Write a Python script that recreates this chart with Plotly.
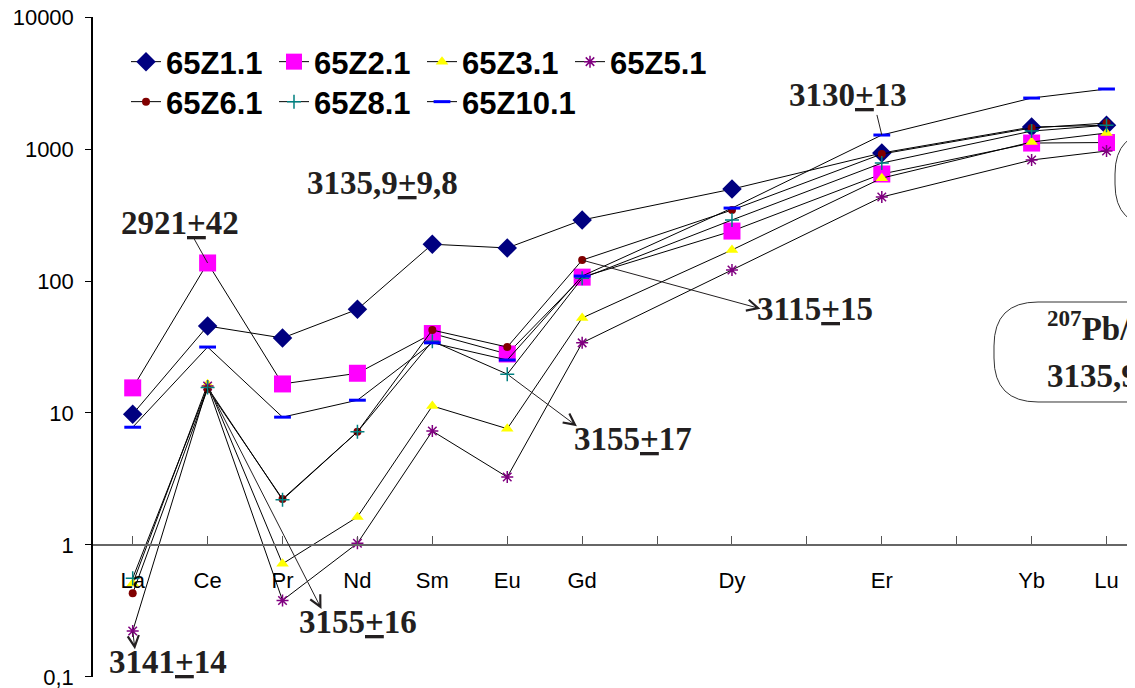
import math
import plotly.graph_objects as go

# ---------------- data ----------------
ree = ["La", "Ce", "Pr", "Nd", "Sm", "Eu", "Gd", "Tb", "Dy", "Ho", "Er", "Tm", "Yb", "Lu"]
ree_labels = ["La", "Ce", "Pr", "Nd", "Sm", "Eu", "Gd", "", "Dy", "", "Er", "", "Yb", "Lu"]

N = None
z1_1 = [9.8, 45.6, 37, 61, 190, 178, 290, N, 497, N, 933, N, 1468, 1514]
z2_1 = [15.5, 137, 16.6, 20, 40, 28, 107, N, 239, N, 647, N, 1110, 1120]
z3_1 = [0.51, 16.5, 0.72, 1.63, 11.3, 7.6, 52.5, N, 172, N, 602, N, 1130, 1322]
z5_1 = [0.223, 16.0, 0.38, 1.03, 7.3, 3.27, 34, N, 121, N, 433, N, 826, 966]
z6_1 = [0.43, 15.2, 2.23, 7.2, 42.5, 31.6, 144, N, 345, N, 917, N, 1443, 1574]
z8_1 = [0.56, 15.6, 2.2, 7.2, 35, 19.7, 105, N, 290, N, 783, N, 1368, 1514]
z10_1 = [7.8, 31.6, 9.3, 12.5, 34, 25.2, 109, N, 357, N, 1277, N, 2434, 2850]

y_tickvals = [0.1, 1, 10, 100, 1000, 10000]
y_ticktext = ["0,1", "1", "10", "100", "1000", "10000"]

x_pos = list(range(len(ree)))

# ---------------- figure ----------------
series = [
    ("65Z1.1", z1_1, dict(symbol="diamond", size=15, color="#000080",
                          line=dict(width=0)), "legend"),
    ("65Z2.1", z2_1, dict(symbol="square", size=17, color="#FF00FF",
                          line=dict(width=0)), "legend"),
    ("65Z3.1", z3_1, dict(symbol="triangle-up", size=11, color="#FFFF00",
                          line=dict(width=0)), "legend"),
    ("65Z5.1", z5_1, dict(symbol="asterisk-open", size=10, color="#800080",
                          line=dict(width=1.5, color="#800080")), "legend"),
    ("65Z6.1", z6_1, dict(symbol="circle", size=8, color="#800000",
                          line=dict(width=0)), "legend2"),
    ("65Z8.1", z8_1, dict(symbol="cross-thin-open", size=10, color="#008080",
                          line=dict(width=1.5, color="#008080")), "legend2"),
    ("65Z10.1", z10_1, dict(symbol="line-ew-open", size=12, color="#0000FF",
                            line=dict(width=3, color="#0000FF")), "legend2"),
]

fig = go.Figure()
for name, vals, marker, leg in series:
    fig.add_trace(go.Scatter(
        x=x_pos, y=vals, name=name, mode="lines+markers",
        connectgaps=True, line=dict(color="black", width=1),
        marker=marker, legend=leg, cliponaxis=False,
    ))
# invisible spacer entry so the last legend2 label is not clipped
fig.add_trace(go.Scatter(x=[None], y=[None], name=" ", mode="lines",
                         line=dict(color="rgba(0,0,0,0)"), legend="legend2",
                         hoverinfo="skip"))

# page offset of the plot div (default body margin of the html page)
OFF = 8
W, H = 1135 - OFF, 688 - OFF
# plot area in page pixels
PLOT_L, PLOT_R, PLOT_T, PLOT_B = 93, 1135, 17, 677


def pxx(px):
    return (px - PLOT_L) / (PLOT_R - PLOT_L)


def pxy(py):
    return (PLOT_B - py) / (PLOT_B - PLOT_T)


serif = dict(family="Liberation Serif, Times New Roman, serif", size=33,
             color="#231f20", weight="bold")


def label(text, x, y, xanchor="center"):
    fig.add_annotation(text=text, x=x, y=y, xref="x", yref="y",
                       showarrow=False, font=serif, xanchor=xanchor,
                       yanchor="middle")


def pointer(x_head, y_head, x_tail, y_tail, head=0):
    fig.add_annotation(text="", x=x_head, y=y_head, ax=x_tail, ay=y_tail,
                       xref="x", yref="y", axref="x", ayref="y",
                       showarrow=True, arrowhead=head, arrowsize=2.2,
                       arrowwidth=1, arrowcolor="#231f20",
                       standoff=0, startstandoff=0)


lg = math.log10
pm = "<u>+</u>"

# age labels
label("2921" + pm + "42", 0.63, 2.44)
pointer(1, lg(z2_1[1]), 0.81, 2.33)

label("3135,9" + pm + "9,8", 3.33, 2.74)

label("3130" + pm + "13", 9.55, 3.41)
pointer(10, lg(z10_1[10]), 9.93, 3.27)

label("3115" + pm + "15", 9.11, 1.79)
pointer(8.38, 1.79, 6, lg(z6_1[6]), head=5)

label("3155" + pm + "17", 6.68, 0.80)
pointer(5.93, 0.90, 5, lg(z8_1[5]), head=5)

label("3155" + pm + "16", 3.01, -0.58)
pointer(2.52, -0.485, 1, lg(z5_1[1]), head=5)

label("3141" + pm + "14", 0.47, -0.89)
pointer(0.03, -0.79, 0, lg(z5_1[0]), head=5)


# rounded boxes (partially cut off at right edge)
def box_path(left, top, right, bottom, r):
    pts = [
        ("M", pxx(left + r), pxy(top)),
        ("L", pxx(right), pxy(top)),
        ("L", pxx(right), pxy(bottom)),
        ("L", pxx(left + r), pxy(bottom)),
    ]
    s = " ".join(f"{c} {a:.5f},{b:.5f}" for c, a, b in pts)
    s += f" Q {pxx(left):.5f},{pxy(bottom):.5f} {pxx(left):.5f},{pxy(bottom - r):.5f}"
    s += f" L {pxx(left):.5f},{pxy(top + r):.5f}"
    s += f" Q {pxx(left):.5f},{pxy(top):.5f} {pxx(left + r):.5f},{pxy(top):.5f} Z"
    return s


fig.add_shape(type="path", xref="paper", yref="paper",
              path=box_path(994, 302, 1400, 402, 44),
              line=dict(color="#333333", width=1), fillcolor="rgba(0,0,0,0)")
fig.add_shape(type="path", xref="paper", yref="paper",
              path=box_path(1115, 132, 1400, 226, 42),
              line=dict(color="#333333", width=1), fillcolor="rgba(0,0,0,0)")

box_font = dict(serif, size=33)
fig.add_annotation(text="<sup>207</sup>Pb/<sup>206</sup>Pb", x=pxx(1045), y=pxy(326),
                   xref="paper", yref="paper", showarrow=False, xanchor="left",
                   yanchor="middle", font=box_font)
fig.add_annotation(text="3135,9" + pm + "9,8", x=pxx(1045), y=pxy(376),
                   xref="paper", yref="paper", showarrow=False, xanchor="left",
                   yanchor="middle", font=box_font)

legend_common = dict(
    orientation="h", xanchor="left", yanchor="middle",
    font=dict(family="Liberation Sans, Arial", size=31, color="black", weight="bold"),
    entrywidth=103, entrywidthmode="pixels", bgcolor="rgba(0,0,0,0)",
    itemwidth=30, tracegroupgap=0,
)

tick_font = dict(family="Liberation Sans, Arial", size=22, color="black")

fig.update_layout(
    width=W, height=H,
    margin=dict(l=PLOT_L - OFF, r=0, t=PLOT_T - OFF, b=688 - PLOT_B,
                autoexpand=False),
    plot_bgcolor="white", paper_bgcolor="white",
    font=dict(family="Liberation Sans, Arial", size=22, color="black"),
    showlegend=True,
    legend=dict(legend_common, x=pxx(126), y=pxy(62)),
    legend2=dict(legend_common, x=pxx(126), y=pxy(102)),
    xaxis=dict(
        type="linear", range=[-0.53, 13.38], anchor="free", position=0.2,
        tickmode="array", tickvals=x_pos, ticktext=ree_labels,
        ticks="inside", ticklen=8, tickwidth=1, tickcolor="#555555",
        showline=True, linecolor="#666666", linewidth=2,
        showgrid=False, zeroline=False, ticklabelstandoff=16,
        tickfont=tick_font,
    ),
    yaxis=dict(
        type="log", range=[-1.0005, 4.0005], tickmode="array",
        tickvals=y_tickvals, ticktext=y_ticktext,
        ticks="outside", ticklen=6, tickwidth=1, tickcolor="black",
        showline=True, linecolor="black", linewidth=1.5,
        showgrid=False, zeroline=False, ticklabelstandoff=7,
        ticklabeloverflow="allow", tickfont=tick_font,
    ),
)

fig.write_html("out.html")
